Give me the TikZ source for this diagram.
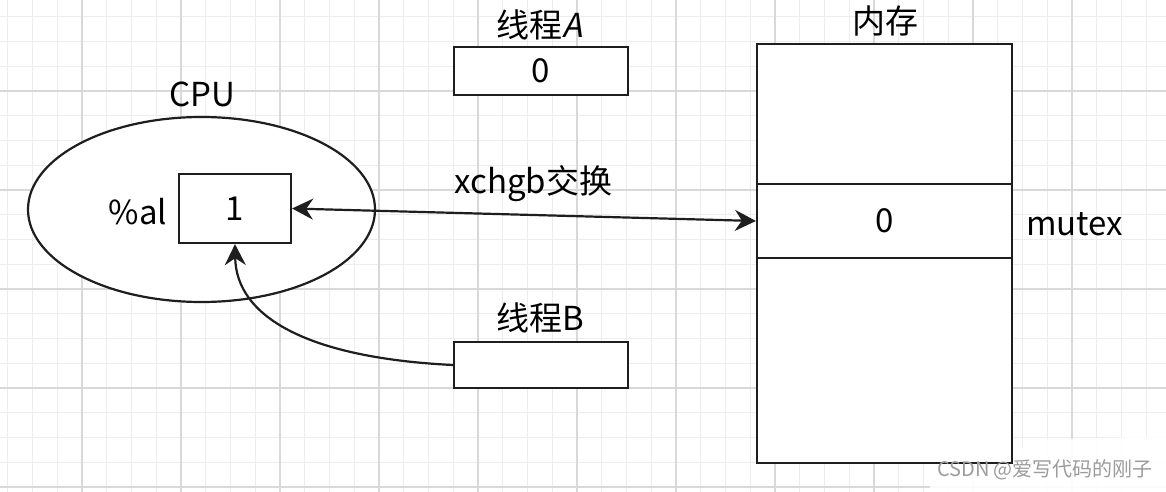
\documentclass[tikz,border=0pt]{standalone}
\usepackage{fontspec}
\setmainfont{Noto Sans CJK SC}
\newfontfamily\slfont[FakeSlant=0.2]{Noto Sans CJK SC}
\usetikzlibrary{shapes.geometric,arrows.meta}
\definecolor{minorgrid}{HTML}{EDEDED}
\definecolor{majorgrid}{HTML}{D9D9D9}
\definecolor{wmark}{HTML}{9C9C9C}
\definecolor{ink}{HTML}{1E1E1E}
\begin{document}
\begin{tikzpicture}[x=1pt,y=-1pt,
  cell/.style={draw=ink,line width=2.2pt,fill=white,inner sep=0pt,rectangle},
  bigtxt/.style={font=\fontsize{33}{38}\selectfont,inner sep=0pt,text=black},
  conn/.style={draw=ink,line width=2.2pt},
  tipA/.tip={Stealth[length=21pt,width=21pt,inset=7pt]}]
\useasboundingbox (0,0) rectangle (1166,492);
\fill[white] (0,0) rectangle (1166,492);
% grid
\foreach \k in {-3,...,44} \draw[minorgrid,line width=1pt] ({82+24.75*\k},0) -- ({82+24.75*\k},492);
\foreach \k in {1,...,20} \draw[minorgrid,line width=1pt] (0,{-8+24.75*\k}) -- (1166,{-8+24.75*\k});
\foreach \k in {0,...,11} \draw[majorgrid,line width=1.1pt] ({82+99*\k},0) -- ({82+99*\k},492);
\foreach \k in {1,...,5} \draw[majorgrid,line width=1.1pt] (0,{-8+99*\k}) -- (1166,{-8+99*\k});
% watermark patch
\fill[white,opacity=0.9] (930,468) -- (1000,458) -- (1040,440) -- (1166,436) -- (1166,492) -- (930,492) -- cycle;
% CPU
\node[draw=ink,line width=2.2pt,fill=white,ellipse,inner sep=0pt,minimum width=347pt,minimum height=185pt] (cpu) at (201.5,209.5) {};
\node[bigtxt] (cpulbl) at (202,94) {CPU};
\node[bigtxt] (al) at (138,212) {\%al};
\node[cell,bigtxt,minimum width=112pt,minimum height=69pt] (reg) at (235,208.5) {1};
% threads
\node[bigtxt] (talbl) at (540,25) {线程{\slfont A}};
\node[cell,bigtxt,minimum width=174pt,minimum height=48pt] (ta) at (541,71) {0};
\node[bigtxt] (tblbl) at (540,318) {线程B};
\node[cell,minimum width=174pt,minimum height=46pt] (tb) at (541,365) {};
% memory
\node[bigtxt] (memlbl) at (885,21) {内存};
\node[cell,minimum width=255pt,minimum height=140pt] (memtop) at (884.5,114) {};
\node[cell,bigtxt,minimum width=255pt,minimum height=74pt] (memmid) at (884.5,221) {0};
\node[cell,minimum width=255pt,minimum height=205pt] (membot) at (884.5,360.5) {};
\node[bigtxt,anchor=west] (mutex) at (1026,224) {mutex};
% connectors
\draw[conn,tipA-tipA] (reg.east) -- node[bigtxt,above=12pt,pos=0.52] (xlbl) {xchgb交换} (memmid.west);
\draw[conn,-tipA] (tb.west) .. controls (310,358) and (236,318) .. (reg.south);
% watermark
\node[font=\fontsize{20}{24}\selectfont,text=wmark,inner sep=0pt] (wm) at (1045,470) {CSDN\ @爱写代码的刚子};
\end{tikzpicture}
\end{document}
